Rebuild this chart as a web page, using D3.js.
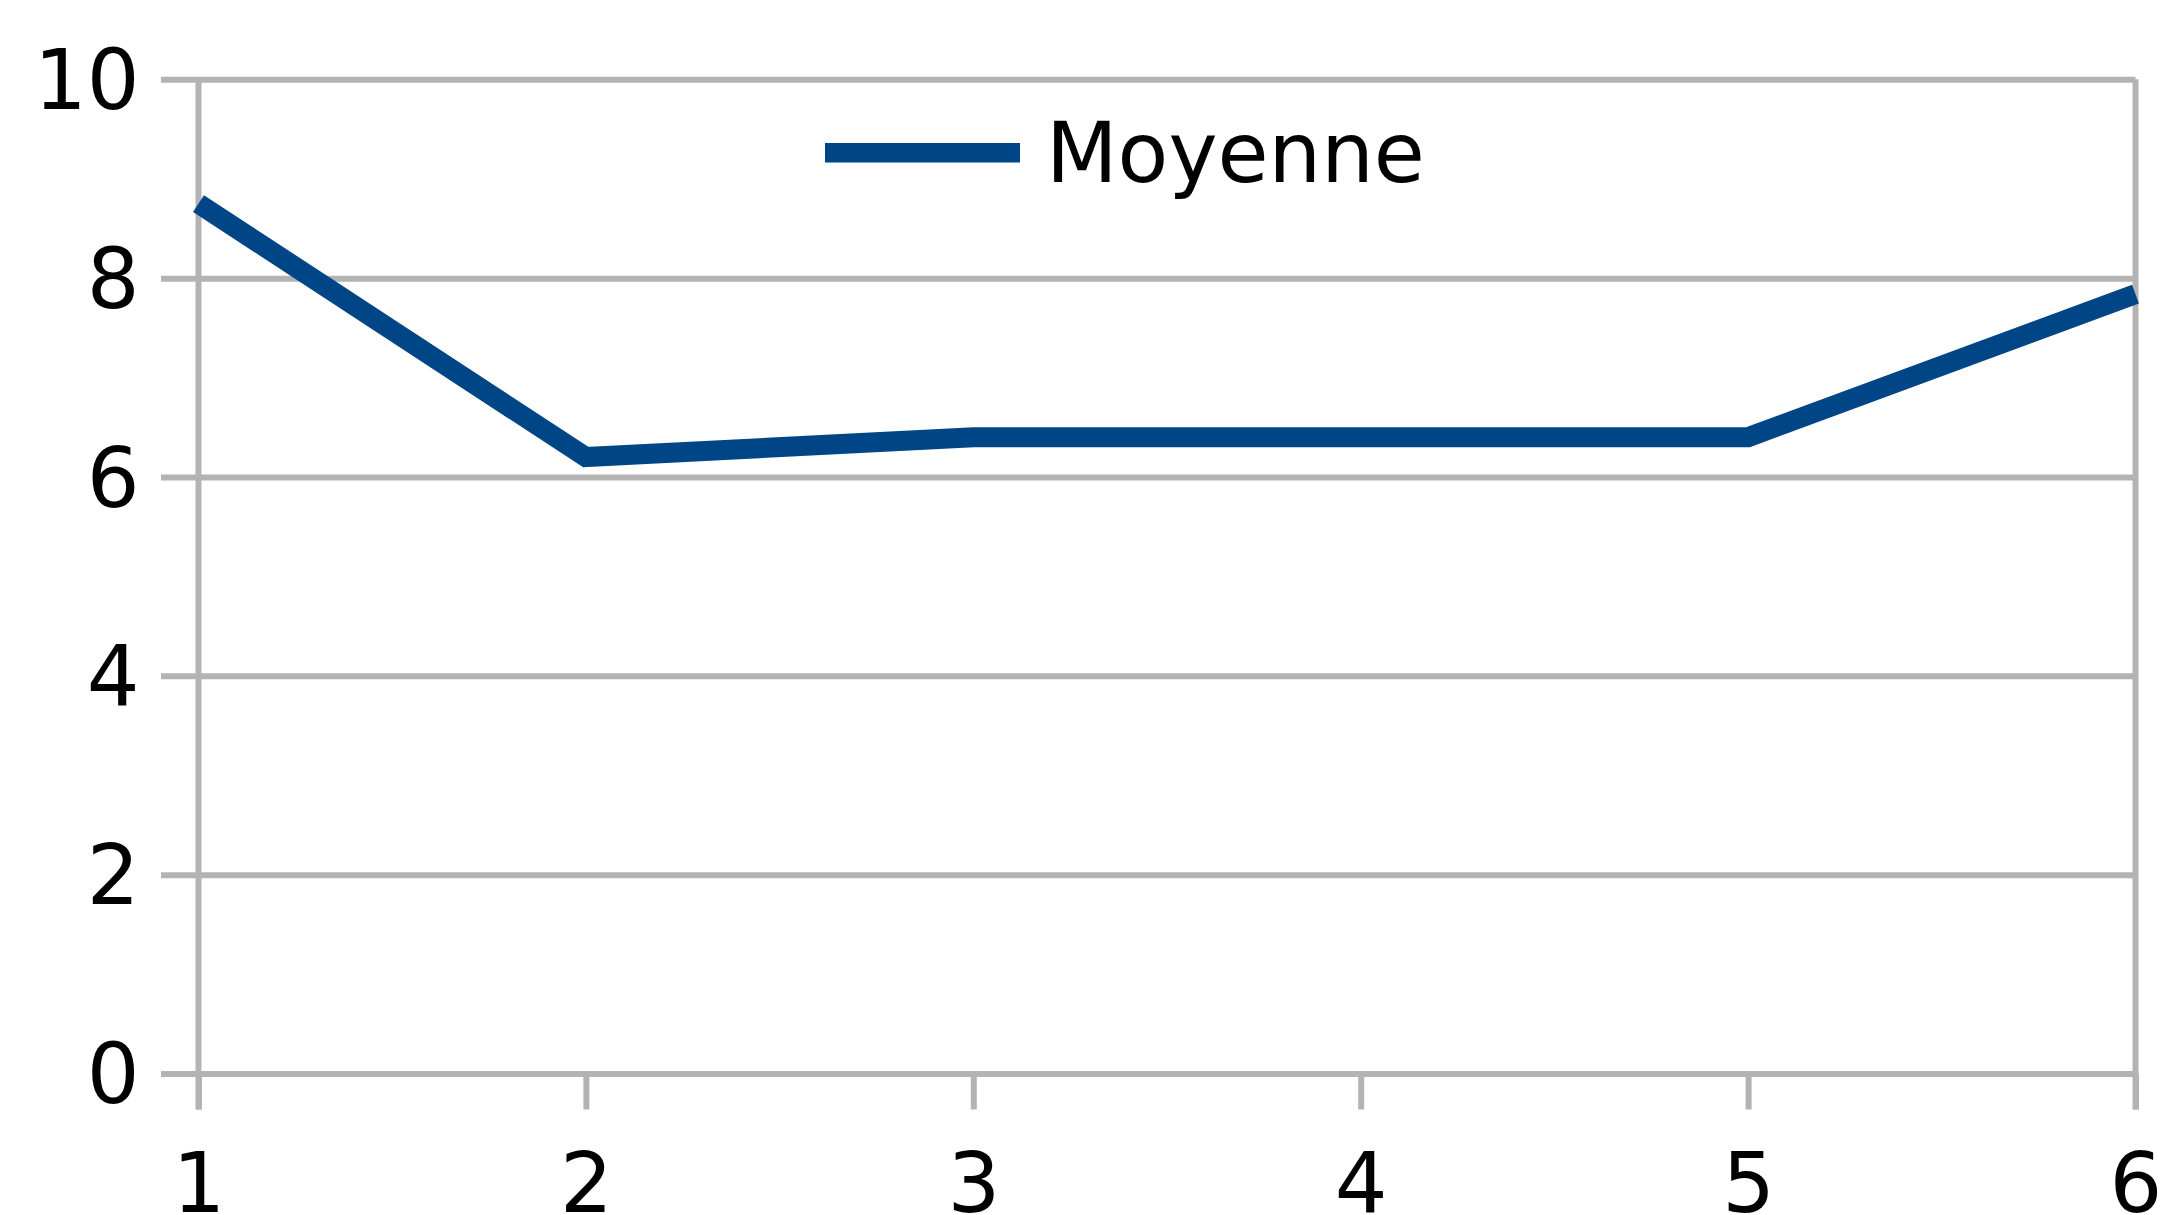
<!DOCTYPE html>
<html>
<head>
<meta charset="utf-8">
<script src="https://cdn.jsdelivr.net/npm/d3@7"></script>
<style>
  html, body { margin: 0; padding: 0; background: #ffffff; }
  svg { display: block; }
  svg text { font-family: "DejaVu Sans", sans-serif; }
</style>
</head>
<body>
<div id="chart"></div>
<script>
// values
const categories = [1, 2, 3, 4, 5, 6];
const moyenne = [8.75, 6.2, 6.4, 6.4, 6.4, 7.84];
const yTicks = [0, 2, 4, 6, 8, 10];
const seriesName = "Moyenne";

const width = 2178, height = 1215;
const margin = { top: 79.3, right: 42.5, bottom: 141.5, left: 198.5 };
const innerWidth = width - margin.left - margin.right;
const innerHeight = height - margin.top - margin.bottom;

const gridColor = "#b3b3b3";
const lineColor = "#004586";
const fontSize = 83;
const fontFamily = "DejaVu Sans, sans-serif";

const svg = d3.select("#chart").append("svg")
    .attr("width", width)
    .attr("height", height);

const g = svg.append("g")
    .attr("transform", `translate(${margin.left},${margin.top})`);

const x = d3.scaleLinear().domain([1, 6]).range([0, innerWidth]);
const y = d3.scaleLinear().domain([0, 10]).range([innerHeight, 0]);

// horizontal grid lines + y tick marks
const yAxis = d3.axisLeft(y)
    .tickValues(yTicks)
    .tickSize(-innerWidth)
    .tickSizeOuter(0);

const yg = g.append("g").call(yAxis)
    .attr("font-family", fontFamily)
    .attr("font-size", fontSize);
yg.select(".domain").remove();
yg.selectAll(".tick line")
    .attr("x1", -37.5)
    .attr("x2", innerWidth)
    .attr("stroke", gridColor)
    .attr("stroke-width", 6);
yg.selectAll(".tick text")
    .attr("x", -59)
    .attr("dy", "0.35em")
    .attr("fill", "#000");

// x axis ticks
const xAxis = d3.axisBottom(x)
    .tickValues(categories)
    .tickFormat(d3.format("d"))
    .tickSize(36)
    .tickSizeOuter(0);

const xg = g.append("g")
    .attr("transform", `translate(0,${innerHeight})`)
    .call(xAxis)
    .attr("font-family", fontFamily)
    .attr("font-size", fontSize);
xg.select(".domain").remove();
xg.selectAll(".tick line")
    .attr("stroke", gridColor)
    .attr("stroke-width", 6);
xg.selectAll(".tick text")
    .attr("y", 138.5)
    .attr("dy", 0)
    .attr("fill", "#000");

// left and right vertical lines
[1, 6].forEach(v => {
    g.append("line")
        .attr("x1", x(v)).attr("x2", x(v))
        .attr("y1", 0).attr("y2", innerHeight + 36)
        .attr("stroke", gridColor)
        .attr("stroke-width", 6);
});

// data line
const line = d3.line()
    .x((d, i) => x(categories[i]))
    .y(d => y(d));

g.append("path")
    .datum(moyenne)
    .attr("fill", "none")
    .attr("stroke", lineColor)
    .attr("stroke-width", 20)
    .attr("stroke-linejoin", "miter")
    .attr("stroke-linecap", "butt")
    .attr("d", line);

// legend
const legend = svg.append("g").attr("transform", "translate(825,152.8)");
legend.append("line")
    .attr("x1", 0).attr("x2", 195)
    .attr("y1", 0).attr("y2", 0)
    .attr("stroke", lineColor)
    .attr("stroke-width", 19.5);
legend.append("text")
    .attr("x", 221)
    .attr("y", 0)
    .attr("dy", "0.35em")
    .attr("font-family", fontFamily)
    .attr("font-size", fontSize)
    .attr("fill", "#000")
    .text(seriesName);
</script>
</body>
</html>
